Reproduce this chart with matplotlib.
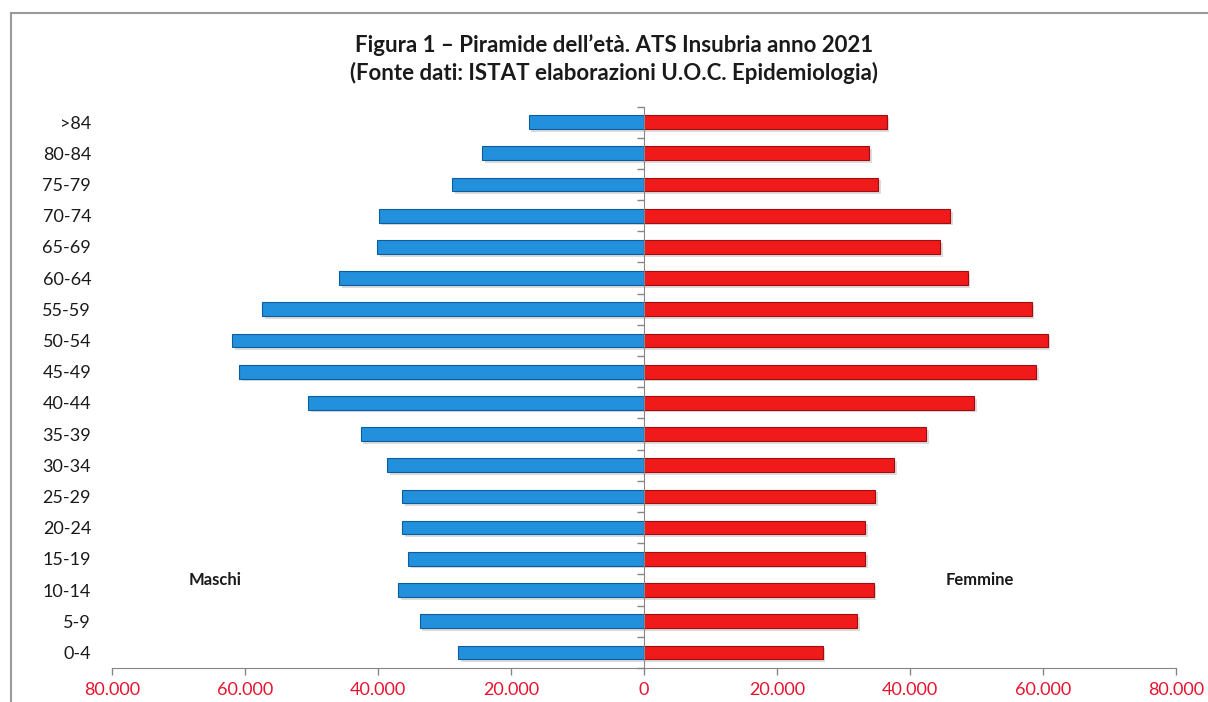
import matplotlib
matplotlib.use("Agg")
import matplotlib.pyplot as plt
from matplotlib.ticker import FuncFormatter, FixedLocator
import matplotlib.patheffects as pe
from matplotlib.lines import Line2D
import numpy as np

plt.rcParams['font.family'] = ['Lato', 'DejaVu Sans']

categories = ["0-4", "5-9", "10-14", "15-19", "20-24", "25-29", "30-34", "35-39",
              "40-44", "45-49", "50-54", "55-59", "60-64", "65-69", "70-74",
              "75-79", "80-84", ">84"]
maschi = [27900, 33750, 36970, 35500, 36430, 36430, 38680, 42600, 50550,
          60930, 61890, 57440, 45890, 40140, 39900, 28800, 24350, 17350]
femmine = [26860, 32010, 34530, 33250, 33250, 34760, 37650, 42380, 49680,
           58970, 60700, 58280, 48670, 44530, 45980, 35180, 33890, 36470]
x_ticks = [-80000, -60000, -40000, -20000, 0, 20000, 40000, 60000, 80000]

title = "Figura 1 – Piramide dell’età. ATS Insubria anno 2021\n(Fonte dati: ISTAT elaborazioni U.O.C. Epidemiologia)"

fig = plt.figure(figsize=(12.08, 7.02), dpi=100)
fig.patch.set_facecolor("white")

# outer chart border (top and left visible)
fig.add_artist(Line2D([11/1208, 11/1208], [0, 1 - 13/702], transform=fig.transFigure,
                      color="#9a9a9a", lw=1.5))
fig.add_artist(Line2D([11/1208, 1.0], [1 - 13/702, 1 - 13/702], transform=fig.transFigure,
                      color="#9a9a9a", lw=1.5))

ax = fig.add_axes([112/1208, 34/702, 1064/1208, 561.5/702])

y = np.arange(len(categories))
shadow = [pe.SimplePatchShadow(offset=(2, -2), alpha=0.25, shadow_rgbFace="#777777"), pe.Normal()]
bm = ax.barh(y, [-v for v in maschi], height=0.44, color="#2290DC", edgecolor="#0F5C9A", linewidth=0.8)
bf = ax.barh(y, femmine, height=0.44, color="#F01A1A", edgecolor="#9E0E0E", linewidth=0.8)
for b in list(bm) + list(bf):
    b.set_path_effects(shadow)

ax.set_xlim(-80000, 80000)
ax.set_ylim(-0.5, len(categories) - 0.5)

ax.set_xticks(x_ticks)
ax.xaxis.set_major_formatter(FuncFormatter(lambda v, p: f"{abs(int(v)):,}".replace(",", ".")))
ax.tick_params(axis="x", colors="#868686", length=5, width=1, labelsize=13,
               labelcolor="#E8142E", pad=5)

for s in ["top", "right"]:
    ax.spines[s].set_visible(False)
ax.spines["bottom"].set_color("#868686")
ax.spines["left"].set_position(("data", 0))
ax.spines["left"].set_color("#868686")

ax.yaxis.set_major_locator(FixedLocator(np.arange(-0.5, len(categories), 1.0)))
ax.yaxis.set_major_formatter(FuncFormatter(lambda v, p: ""))
ax.tick_params(axis="y", colors="#868686", length=5, width=1, direction="out")

sec = ax.secondary_yaxis(0.0)
sec.set_yticks(y)
sec.set_yticklabels(categories)
sec.spines["left"].set_visible(False)
sec.tick_params(axis="y", length=0, pad=15, labelsize=13, labelcolor="#1a1a1a")

ax.text(0.0968, 0.157, "Maschi", transform=ax.transAxes, ha="center", va="center",
        fontsize=12, fontweight="bold", color="#1a1a1a")
ax.text(0.816, 0.157, "Femmine", transform=ax.transAxes, ha="center", va="center",
        fontsize=12, fontweight="bold", color="#1a1a1a")

fig.text(614/1208, 1 - 59/702, title, ha="center", va="center", fontsize=16,
         fontweight="bold", color="#1a1a1a", linespacing=1.3)

fig.savefig("out.png", dpi=100, facecolor="white")
